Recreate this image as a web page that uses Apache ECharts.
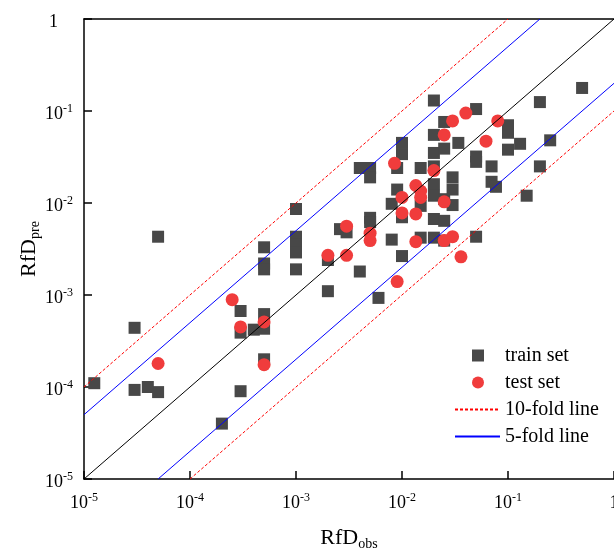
<!DOCTYPE html>
<html>
<head>
<meta charset="utf-8">
<script src="https://cdn.jsdelivr.net/npm/echarts@6/dist/echarts.min.js"></script>
<style>
  html, body { margin: 0; padding: 0; background: #fff; }
  #chart { width: 614px; height: 551px; }
</style>
</head>
<body>
<div id="chart"></div>
<script>
let trainObs = [1.25e-5, 3e-5, 3e-5, 4e-5, 5e-5, 5e-5, 2e-4, 3e-4, 3e-4, 3e-4, 4e-4,
  5e-4, 5e-4, 5e-4, 5e-4, 5e-4, 5e-4, 1e-3, 1e-3, 1e-3, 1e-3, 1e-3, 2e-3, 2e-3, 2.6e-3, 3e-3,
  4e-3, 4e-3, 5e-3, 5e-3, 5e-3, 5e-3, 6e-3, 8e-3, 8e-3, 9e-3, 9e-3, 0.01, 0.01, 0.01, 0.01,
  0.015, 0.015, 0.015, 0.02, 0.02, 0.02, 0.02, 0.02, 0.02, 0.02, 0.02,
  0.025, 0.025, 0.025, 0.025, 0.025, 0.03, 0.03, 0.03, 0.034, 0.05, 0.05, 0.05, 0.05,
  0.07, 0.07, 0.077, 0.1, 0.1, 0.1, 0.13, 0.15, 0.2, 0.2, 0.25, 0.5];
let trainPre = [1.1e-4, 4.4e-4, 9.3e-5, 1.0e-4, 8.8e-5, 4.3e-3, 4.0e-5, 9.0e-5, 6.7e-4, 3.9e-4, 4.2e-4,
  6.2e-4, 4.3e-4, 2.0e-4, 3.3e-3, 2.2e-3, 1.9e-3, 8.6e-3, 4.3e-3, 3.5e-3, 2.9e-3, 1.9e-3, 2.4e-3, 1.1e-3, 5.2e-3, 4.8e-3,
  0.024, 1.8e-3, 0.024, 0.019, 6.9e-3, 6.2e-3, 9.3e-4, 9.8e-3, 4.0e-3, 0.024, 0.014, 0.045, 0.034, 7.0e-3, 2.65e-3,
  0.024, 9.3e-3, 4.2e-3, 0.13, 0.055, 0.035, 0.025, 0.016, 0.012, 0.0067, 0.0042,
  0.076, 0.039, 0.011, 0.0064, 0.0039, 0.019, 0.014, 0.0095, 0.045, 0.105, 0.032, 0.028, 0.0043,
  0.025, 0.017, 0.015, 0.07, 0.058, 0.038, 0.044, 0.012, 0.125, 0.025, 0.048, 0.178];
let testObs = [5e-5, 2.5e-4, 3e-4, 5e-4, 5e-4, 2e-3, 3e-3, 3e-3, 5e-3, 5e-3, 8.5e-3, 9e-3, 0.01, 0.01,
  0.0135, 0.0135, 0.0135, 0.015, 0.015, 0.02, 0.025, 0.025, 0.025, 0.03, 0.03, 0.036, 0.04, 0.062, 0.08];
let testPre = [1.8e-4, 8.9e-4, 4.5e-4, 5.1e-4, 1.75e-4, 2.7e-3, 5.6e-3, 2.7e-3, 4.7e-3, 3.9e-3, 0.027, 1.4e-3, 0.0115, 0.0078,
  0.0155, 0.0076, 0.0038, 0.0135, 0.0115, 0.0225, 0.055, 0.0103, 0.0039, 0.078, 0.0043, 0.0026, 0.095, 0.047, 0.078];

// reference lines: y = k * x
let oneLine = [[1e-5, 1e-5], [1, 1]];
let fold10Up = [[1e-5, 1e-4], [0.1, 1]];
let fold10Down = [[1e-4, 1e-5], [1, 0.1]];
let fold5Up = [[1e-5, 5e-5], [0.2, 1]];
let fold5Down = [[5e-5, 1e-5], [1, 0.2]];

let font = 'Liberation Serif, Times New Roman, serif';

let pairs = (xs, ys) => xs.map((x, i) => [x, ys[i]]);

let labelRich = (onePad) => ({
  b: { fontSize: 18, fontFamily: font, color: '#000', lineHeight: 22 },
  s: { fontSize: 12, fontFamily: font, color: '#000', lineHeight: 12, verticalAlign: 'top' },
  one: { fontSize: 18, fontFamily: font, color: '#000', lineHeight: 22, padding: [0, onePad, 0, 0] }
});
let logLabel = (v) => {
  let e = Math.round(Math.log10(v));
  return e === 0 ? '{one|1}' : '{b|10}{s|' + e + '}';
};
let nameRich = {
  m: { fontSize: 22, fontFamily: font, color: '#000', lineHeight: 26 },
  u: { fontSize: 14, fontFamily: font, color: '#000', lineHeight: 14, verticalAlign: 'bottom', padding: [6, 0, 0, 0] }
};

let chart = echarts.init(document.getElementById('chart'));
let option = {
  animation: false,
  grid: { left: 84, top: 19, right: 0, bottom: 72, outerBoundsMode: 'none', containLabel: false },
  legend: [
    {
      data: ['train set', 'test set'],
      orient: 'vertical',
      left: 467, top: 340,
      itemWidth: 12, itemHeight: 12, itemGap: 6,
      textStyle: { fontSize: 20, fontFamily: font, color: '#000', lineHeight: 21, padding: [0, 0, 0, 16] }
    },
    {
      data: ['10-fold line', '5-fold line'],
      orient: 'vertical',
      left: 449, top: 394,
      itemWidth: 45, itemHeight: 12, itemGap: 6,
      itemStyle: { opacity: 0 },
      textStyle: { fontSize: 20, fontFamily: font, color: '#000', lineHeight: 21 }
    }
  ],
  xAxis: [
    {
      type: 'log', logBase: 10, min: 1e-5, max: 1, interval: 1,
      name: '{m|RfD}{u|obs}', nameLocation: 'middle', nameGap: 46,
      nameTextStyle: { rich: nameRich },
      axisLine: { lineStyle: { color: '#000', width: 1.5 } },
      axisTick: { inside: true, length: 8, lineStyle: { color: '#000', width: 1.5 } },
      minorTick: { show: false },
      axisLabel: { formatter: logLabel, rich: labelRich(0), margin: 13, showMinLabel: true, showMaxLabel: true },
      splitLine: { show: false }
    },
    {
      type: 'log', logBase: 10, min: 1e-5, max: 1, position: 'top',
      axisLine: { lineStyle: { color: '#000', width: 1.5 } },
      axisTick: { show: false }, axisLabel: { show: false }, splitLine: { show: false }
    }
  ],
  yAxis: {
    type: 'log', logBase: 10, min: 1e-5, max: 1, interval: 1,
    name: '{m|RfD}{u|pre}', nameLocation: 'middle', nameGap: 42, nameMoveOverlap: false,
    nameTextStyle: { rich: nameRich },
    axisLine: { lineStyle: { color: '#000', width: 1.5 } },
    axisTick: { inside: true, length: 8, lineStyle: { color: '#000', width: 1.5 } },
    axisLabel: { formatter: logLabel, rich: labelRich(15), margin: 11, padding: [6, 0, 0, 0],
      showMinLabel: true, showMaxLabel: true },
    splitLine: { show: false }
  },
  series: [
    { name: '1:1', type: 'line', data: oneLine, symbol: 'none', silent: true,
      lineStyle: { color: '#000', width: 1 } },
    { name: '10-fold line', type: 'line', data: fold10Up, symbol: 'none', silent: true,
      lineStyle: { color: '#ff0000', width: 1, type: [3, 2] }, itemStyle: { color: '#ff0000' } },
    { name: '10-fold line', type: 'line', data: fold10Down, symbol: 'none', silent: true,
      lineStyle: { color: '#ff0000', width: 1, type: [3, 2] }, itemStyle: { color: '#ff0000' } },
    { name: '5-fold line', type: 'line', data: fold5Up, symbol: 'none', silent: true,
      lineStyle: { color: '#0000ff', width: 1 }, itemStyle: { color: '#0000ff' } },
    { name: '5-fold line', type: 'line', data: fold5Down, symbol: 'none', silent: true,
      lineStyle: { color: '#0000ff', width: 1 }, itemStyle: { color: '#0000ff' } },
    { name: 'train set', type: 'scatter', data: pairs(trainObs, trainPre),
      symbol: 'rect', symbolSize: 12, itemStyle: { color: '#484848', opacity: 1 } },
    { name: 'test set', type: 'scatter', data: pairs(testObs, testPre),
      symbol: 'circle', symbolSize: 13, itemStyle: { color: '#f03c3c', opacity: 1 } }
  ]
};
chart.setOption(option);
</script>
</body>
</html>
